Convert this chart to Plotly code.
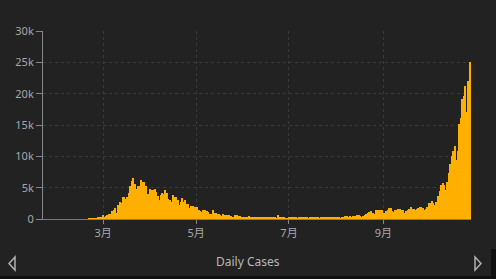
import pandas as pd
import plotly.graph_objects as go

# Daily new cases, Jan 22 - Oct 28, 2020, listed month by month
jan = [0, 0, 0, 0, 0, 0, 0, 0, 0, 0]
feb = [0, 0, 0, 0, 0, 0, 0, 0, 0, 0, 0, 0, 0, 0, 0, 0, 0, 0, 0, 0,
       17, 62, 75, 76, 93, 78, 250, 238, 240]
mar = [566, 342, 466, 587, 769, 778, 1247, 1492, 1797, 977, 2313, 2651, 2547, 3497, 3590,
       3233, 3526, 4207, 5322, 5986, 6557, 5560, 4789, 5249, 5210, 6203, 5909, 5974, 5217,
       4050, 4053]
apr = [4782, 4668, 4585, 4805, 4316, 3599, 3039, 3836, 4204, 3951, 4694, 4092, 3153, 2972,
       2667, 3786, 3493, 3491, 3047, 2256, 2729, 3370, 2646, 3021, 2357, 2324, 1739, 2091,
       2086, 1872]
may = [1965, 1900, 1389, 1221, 1075, 1444, 1401, 1327, 1083, 802, 744, 1402, 888, 992, 789,
       875, 675, 451, 813, 665, 642, 652, 669, 531, 300, 397, 584, 593, 516, 416, 355]
jun = [178, 318, 321, 177, 518, 270, 197, 280, 283, 202, 379, 163, 346, 338, 301, 210, 329,
       333, 251, 262, 224, 218, 122, 600, 296, 259, 175, 174, 126, 142]
jul = [187, 201, 223, 235, 192, 208, 138, 193, 229, 276, 188, 234, 169, 114, 162, 230, 233,
       249, 219, 190, 129, 282, 306, 252, 275, 255, 170, 181, 212, 289, 386]
aug = [379, 295, 239, 159, 190, 384, 402, 552, 347, 463, 259, 412, 481, 523, 574, 629, 479,
       320, 403, 642, 845, 947, 1071, 1210, 953, 878, 1367, 1411, 1462, 1444, 1365]
sep = [996, 978, 1326, 1397, 1733, 1695, 1297, 1108, 1370, 1434, 1597, 1616, 1501, 1458,
       1008, 1229, 1452, 1585, 1907, 1638, 1587, 1392, 1640, 1786, 1912, 1869, 1766, 1494,
       1648, 1851]
oct_ = [2548, 2499, 2844, 2578, 2257, 2677, 3678, 4458, 5372, 5724, 5456, 4619, 5901, 7332,
        8804, 10010, 10925, 11705, 9338, 10874, 15199, 16079, 19143, 19644, 21273, 17012,
        21994, 24991]

values = jan + feb + mar + apr + may + jun + jul + aug + sep + oct_
dates = pd.date_range("2020-01-22", periods=len(values), freq="D")

y_ticks = [0, 5000, 10000, 15000, 20000, 25000, 30000]
y_labels = ["0", "5k", "10k", "15k", "20k", "25k", "30k"]
title_text = "Daily Cases"

BG = "#222222"
W, H = 496, 279
L, R, T, B = 43, 25, 31, 60
pw, ph = W - L - R, H - T - B


def px_x(px):
    return (px - L) / pw


def px_y(py):
    return (H - B - py) / ph


fig = go.Figure(go.Bar(
    x=dates, y=values,
    marker=dict(color="#FFAF00", line=dict(width=0)),
    hoverinfo="skip",
))

font = "Noto Sans, Noto Sans CJK JP, sans-serif"
GRID = "#3a3a3a"

fig.update_layout(
    width=W, height=H,
    margin=dict(l=L, r=R, t=T, b=B),
    paper_bgcolor=BG, plot_bgcolor=BG,
    bargap=0, showlegend=False,
    font=dict(family=font, color="#a8a8a8", size=11),
    xaxis=dict(
        range=["2020-01-21 12:00", "2020-10-28 12:00"],
        tickvals=["2020-03-01", "2020-05-01", "2020-07-01", "2020-09-01"],
        tickformat="%-m月",
        ticks="outside", ticklen=4, tickcolor="#888888",
        showgrid=True, gridcolor=GRID, griddash="3px,3px", gridwidth=1,
        showline=True, linecolor="#8c7849", linewidth=1,
        zeroline=False,
        tickfont=dict(size=11, color="#a8a8a8"),
    ),
    yaxis=dict(
        range=[0, 30000],
        tickvals=y_ticks, ticktext=y_labels,
        ticks="outside", ticklen=6, tickcolor="#888888",
        showgrid=True, gridcolor=GRID, griddash="3px,3px", gridwidth=1,
        showline=True, linecolor="#888888", linewidth=1,
        zeroline=False,
        tickfont=dict(size=11, color="#a8a8a8"),
    ),
    annotations=[
        dict(text=title_text, xref="paper", yref="paper",
             x=px_x(248), y=px_y(261), xanchor="center", yanchor="middle",
             showarrow=False, font=dict(size=12, color="#b8b8b8", family=font)),
    ],
    shapes=[
        # left / right navigation triangles
        dict(type="path", xref="paper", yref="paper",
             path=f"M {px_x(15)} {px_y(257)} L {px_x(9)} {px_y(263.5)} L {px_x(15)} {px_y(270)} Z",
             line=dict(color="#b0b0b0", width=1.5), fillcolor="rgba(0,0,0,0)"),
        dict(type="path", xref="paper", yref="paper",
             path=f"M {px_x(475)} {px_y(257)} L {px_x(481)} {px_y(263.5)} L {px_x(475)} {px_y(270)} Z",
             line=dict(color="#b0b0b0", width=1.5), fillcolor="rgba(0,0,0,0)"),
        # darker edges at the bottom / right
        dict(type="rect", xref="paper", yref="paper", layer="below",
             x0=px_x(0), x1=px_x(W), y0=px_y(276), y1=px_y(H),
             fillcolor="#0f0f0f", line=dict(width=0)),
        dict(type="rect", xref="paper", yref="paper", layer="below",
             x0=px_x(491), x1=px_x(W), y0=px_y(249), y1=px_y(H),
             fillcolor="#0f0f0f", line=dict(width=0)),
    ],
)

fig.write_html("out.html")
